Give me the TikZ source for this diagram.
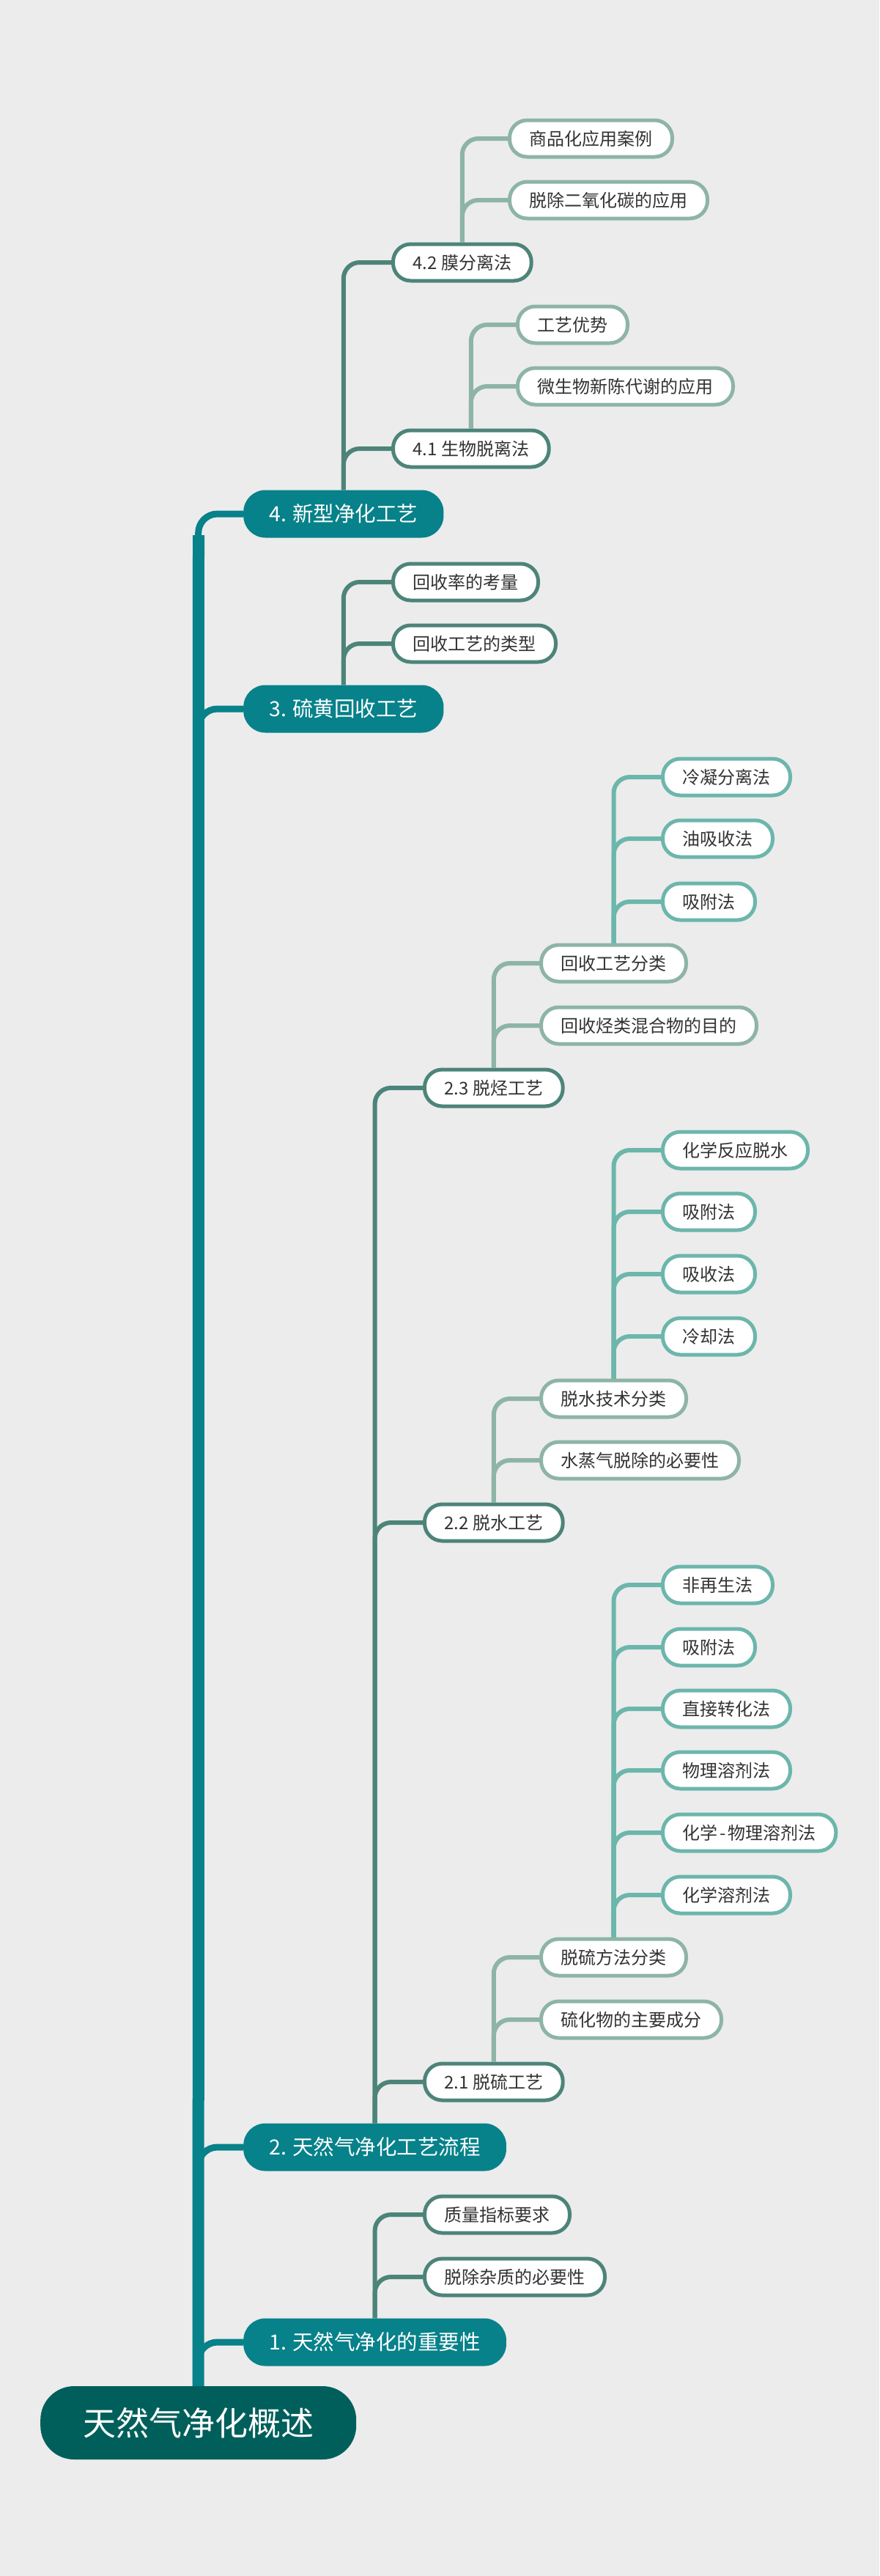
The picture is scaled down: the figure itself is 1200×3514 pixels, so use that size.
\documentclass[tikz,border=0pt]{standalone}
\usepackage{fontspec}
\newfontfamily\cjk{Noto Sans CJK SC}
\definecolor{bgc}{HTML}{ECECEC}
\definecolor{rootc}{HTML}{005F5B}
\definecolor{topicc}{HTML}{07818A}
\definecolor{darkc}{HTML}{4D8479}
\definecolor{sagec}{HTML}{8EB4A6}
\definecolor{mintc}{HTML}{6CB6AC}
\definecolor{txtc}{HTML}{333333}

\begin{document}
\begin{tikzpicture}[x=1pt,y=-1pt]
    % Mind map TiKZ Style
    \tikzstyle{root}=[fill=rootc,text=white,rounded corners=46pt,minimum height=100pt,inner xsep=58pt,font=\cjk\fontsize{45}{54}\selectfont]
    \tikzstyle{topic}=[fill=topicc,text=white,rounded corners=30pt,minimum height=65pt,inner xsep=35pt,font=\cjk\fontsize{28.5}{34}\selectfont]
    \tikzstyle{sub}=[fill=white,text=txtc,line width=5pt,rounded corners=24pt,minimum height=50pt,inner xsep=27pt,font=\cjk\fontsize{24}{29}\selectfont]
    \tikzstyle{subA}=[sub,draw=darkc]
    \tikzstyle{subB}=[sub,draw=sagec]
    \tikzstyle{subC}=[sub,draw=mintc]
    \tikzstyle{branch}=[line width=6pt,rounded corners=22pt,to path={|- (\tikztotarget)}]
    \tikzstyle{limb}=[branch,line width=9pt,rounded corners=26pt]
    \tikzstyle{trunk}=[line width=16pt,draw=topicc]

    \fill[bgc] (0,0) rectangle (1200,3514);

    % Nodes, positions, and labels
    \node[root,anchor=west]  (root) at (55,3305) {天然气净化概述};

    \node[topic,anchor=west] (m4) at (332,701)  {4. 新型净化工艺};
    \node[topic,anchor=west] (m3) at (332,967)  {3. 硫黄回收工艺};
    \node[topic,anchor=west] (m2) at (332,2929) {2. 天然气净化工艺流程};
    \node[topic,anchor=west] (m1) at (332,3195) {1. 天然气净化的重要性};

    \node[subA,anchor=west] (mem)   at (534,358)  {4.2 膜分离法};
    \node[subA,anchor=west] (bio)   at (534,612)  {4.1 生物脱离法};
    \node[subA,anchor=west] (rate)  at (534,794)  {回收率的考量};
    \node[subA,anchor=west] (kind)  at (534,878)  {回收工艺的类型};
    \node[subA,anchor=west] (hc)    at (577,1484) {2.3 脱烃工艺};
    \node[subA,anchor=west] (dew)   at (577,2077) {2.2 脱水工艺};
    \node[subA,anchor=west] (sulf)  at (577,2840) {2.1 脱硫工艺};
    \node[subA,anchor=west] (qual)  at (577,3021) {质量指标要求};
    \node[subA,anchor=west] (need)  at (577,3106) {脱除杂质的必要性};

    \node[subB,anchor=west] (mem_1) at (693,189)  {商品化应用案例};
    \node[subB,anchor=west] (mem_2) at (693,273)  {脱除二氧化碳的应用};
    \node[subB,anchor=west] (bio_1) at (704,443)  {工艺优势};
    \node[subB,anchor=west] (bio_2) at (704,527)  {微生物新陈代谢的应用};
    \node[subB,anchor=west] (hc_1)  at (736,1314) {回收工艺分类};
    \node[subB,anchor=west] (hc_2)  at (736,1399) {回收烃类混合物的目的};
    \node[subB,anchor=west] (dew_1) at (736,1908) {脱水技术分类};
    \node[subB,anchor=west] (dew_2) at (736,1992) {水蒸气脱除的必要性};
    \node[subB,anchor=west] (sulf_1) at (736,2670) {脱硫方法分类};
    \node[subB,anchor=west] (sulf_2) at (736,2755) {硫化物的主要成分};

    \node[subC,anchor=west] (hc_a)  at (902,1060) {冷凝分离法};
    \node[subC,anchor=west] (hc_b)  at (902,1144) {油吸收法};
    \node[subC,anchor=west] (hc_c)  at (902,1230) {吸附法};

    \node[subC,anchor=west] (dew_a) at (902,1569) {化学反应脱水};
    \node[subC,anchor=west] (dew_b) at (902,1653) {吸附法};
    \node[subC,anchor=west] (dew_c) at (902,1738) {吸收法};
    \node[subC,anchor=west] (dew_d) at (902,1823) {冷却法};

    \node[subC,anchor=west] (sulf_a) at (902,2162) {非再生法};
    \node[subC,anchor=west] (sulf_b) at (902,2247) {吸附法};
    \node[subC,anchor=west] (sulf_c) at (902,2331) {直接转化法};
    \node[subC,anchor=west] (sulf_d) at (902,2415) {物理溶剂法};
    \node[subC,anchor=west] (sulf_e) at (902,2500) {化学\kern3pt-\kern3pt物理溶剂法};
    \node[subC,anchor=west] (sulf_f) at (902,2585) {化学溶剂法};

    \coordinate (top) at (271,730);

    % Edges
    \draw[trunk] (root.north) -- (top);
    \path[topicc]
    (root.north) edge [limb] (m4.west)
                 edge [limb] (m3.west)
                 edge [limb] (m2.west)
                 edge [limb] (m1.west);

    \path[darkc]
    (m4.north) edge [branch] (mem.west)
               edge [branch] (bio.west)
    (m3.north) edge [branch] (rate.west)
               edge [branch] (kind.west)
    (m2.north) edge [branch] (hc.west)
               edge [branch] (dew.west)
               edge [branch] (sulf.west)
    (m1.north) edge [branch] (qual.west)
               edge [branch] (need.west);

    \path[sagec]
    (mem.north)  edge [branch] (mem_1.west)
                 edge [branch] (mem_2.west)
    (bio.north)  edge [branch] (bio_1.west)
                 edge [branch] (bio_2.west)
    (hc.north)   edge [branch] (hc_1.west)
                 edge [branch] (hc_2.west)
    (dew.north)  edge [branch] (dew_1.west)
                 edge [branch] (dew_2.west)
    (sulf.north) edge [branch] (sulf_1.west)
                 edge [branch] (sulf_2.west);

    \path[mintc]
    (hc_1.north)   edge [branch] (hc_a.west)
                   edge [branch] (hc_b.west)
                   edge [branch] (hc_c.west)
    (dew_1.north)  edge [branch] (dew_a.west)
                   edge [branch] (dew_b.west)
                   edge [branch] (dew_c.west)
                   edge [branch] (dew_d.west)
    (sulf_1.north) edge [branch] (sulf_a.west)
                   edge [branch] (sulf_b.west)
                   edge [branch] (sulf_c.west)
                   edge [branch] (sulf_d.west)
                   edge [branch] (sulf_e.west)
                   edge [branch] (sulf_f.west);

\end{tikzpicture}
\end{document}
